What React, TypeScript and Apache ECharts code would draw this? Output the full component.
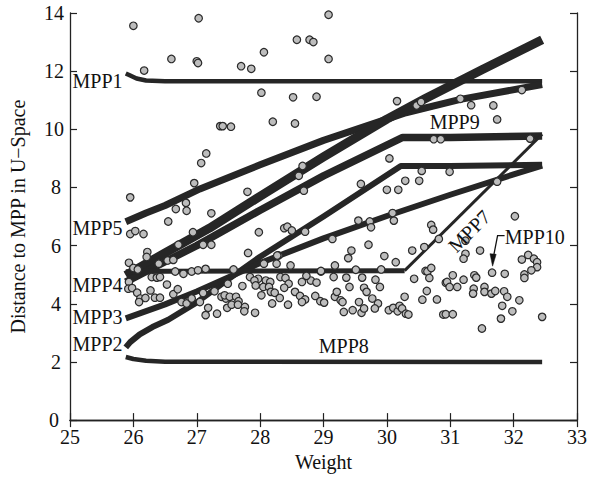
import React, { useEffect, useRef } from "react";
import * as echarts from "echarts";

// ---- Data ----
const xTickValues = [25, 26, 27, 28, 29, 30, 31, 32, 33];
const yTickValues = [0, 2, 4, 6, 8, 10, 12, 14];

const mpp1 = [[25.88, 11.92], [25.95, 11.85], [26.05, 11.75], [26.2, 11.68], [26.5, 11.65], [32.45, 11.65]];
const mpp8 = [[25.88, 2.17], [26.0, 2.1], [26.2, 2.04], [26.5, 2.01], [32.45, 2.0]];
const mpp5 = [[25.88, 6.82], [26.2, 7.12], [26.5, 7.38], [27.05, 7.95], [28.0, 8.78], [29.0, 9.62], [30.0, 10.35], [30.3, 10.57], [31.16, 11.03], [32.45, 11.54]];
const mpp6 = [[25.88, 4.98], [26.5, 5.75], [27.2, 6.6], [28.0, 7.7], [29.0, 9.05], [30.0, 10.35], [30.6, 11.05], [31.5, 12.05], [32.45, 13.08]];
const mpp9 = [[25.88, 4.75], [26.5, 5.45], [27.0, 6.0], [28.0, 7.22], [29.0, 8.4], [30.25, 9.72], [31.0, 9.72], [32.45, 9.77]];
const mpp2 = [[25.88, 2.5], [25.95, 2.68], [26.1, 2.95], [26.3, 3.2], [26.55, 3.45], [27.0, 4.05], [27.5, 4.85], [28.0, 5.62], [29.0, 7.0], [30.22, 8.74], [31.0, 8.74], [32.45, 8.78]];
const mpp3 = [[25.88, 3.5], [26.5, 3.98], [27.0, 4.42], [28.0, 5.4], [29.0, 6.25], [30.0, 7.02], [31.0, 7.75], [32.0, 8.45], [32.45, 8.75]];
const mpp7 = [[25.88, 5.1], [26.5, 5.12], [30.28, 5.14], [32.45, 9.83]];

const mpp10 = [
  [26.0, 13.56], [27.03, 13.82], [29.08, 13.94], [26.17, 12.02], [26.6, 12.42], [27.0, 12.34], [27.02, 12.28], [27.7, 12.17], [27.86, 12.08], [28.06, 12.65],
  [28.58, 13.08], [28.78, 13.08], [28.84, 13.0], [29.08, 12.42], [28.02, 11.26], [28.52, 11.1], [28.89, 11.12], [27.37, 10.11], [27.41, 10.11], [27.54, 10.09],
  [28.2, 10.26], [28.55, 10.2], [30.16, 10.97], [30.47, 10.82], [30.54, 10.94], [31.16, 11.05], [31.33, 10.83], [31.68, 10.82], [31.74, 10.34], [32.13, 11.35],
  [27.15, 9.17], [27.07, 8.84], [26.96, 8.15], [27.8, 7.85], [25.95, 7.66], [26.83, 7.47], [26.67, 7.26], [26.84, 7.2], [27.23, 7.11], [26.55, 6.83],
  [30.74, 9.66], [30.85, 9.66], [32.26, 9.68], [28.67, 8.74], [28.61, 8.4], [28.69, 7.89], [30.04, 9.0], [30.55, 8.57], [30.99, 8.54], [29.59, 8.12],
  [30.0, 7.92], [30.18, 7.92], [30.29, 8.23], [30.51, 8.23], [31.74, 8.2], [32.02, 7.01],
  [27.98, 6.46], [28.38, 6.6], [28.43, 6.65], [28.5, 6.52], [28.71, 6.48], [25.95, 6.4], [26.03, 6.5], [26.16, 6.4], [26.94, 6.46], [29.55, 6.86],
  [29.73, 6.83], [29.75, 6.63], [30.11, 6.86], [30.09, 7.12], [30.7, 6.71], [30.73, 6.55], [30.82, 6.23],
  [27.1, 6.03], [27.23, 6.03], [26.71, 6.03], [29.14, 6.23], [29.71, 6.03], [31.24, 6.17],
  [26.22, 5.78], [26.21, 5.61], [25.93, 5.41], [26.0, 5.23], [26.07, 5.18], [26.4, 5.38], [26.54, 5.49], [26.63, 5.51], [26.29, 4.92], [26.37, 4.9],
  [26.42, 4.92], [26.66, 5.11], [26.79, 5.03], [26.92, 5.11], [27.02, 5.15], [27.14, 5.2], [25.93, 4.75], [25.92, 4.52], [25.98, 4.54], [26.53, 4.66],
  [26.27, 4.46], [26.06, 4.38], [26.11, 4.18], [26.19, 4.2], [26.09, 4.06], [26.34, 4.21], [26.42, 4.21], [26.63, 4.33], [26.7, 4.5], [26.76, 4.06],
  [26.84, 4.01], [26.92, 4.18], [27.05, 4.06], [27.1, 4.37], [27.28, 4.43], [27.39, 4.24], [27.46, 4.18], [27.18, 3.86], [27.32, 3.66], [27.14, 3.61],
  [27.81, 5.75], [28.29, 5.66], [28.06, 5.38], [28.26, 5.38], [28.48, 5.32], [29.18, 5.32], [27.58, 5.18], [27.49, 4.69], [27.84, 4.92], [27.97, 4.86],
  [27.91, 4.8], [28.32, 4.92], [28.4, 4.89], [28.09, 4.8], [28.16, 4.75], [27.93, 4.63], [27.72, 4.61], [28.05, 4.58], [28.14, 4.58], [28.45, 4.69],
  [28.38, 4.55], [28.66, 4.75], [28.8, 4.8], [28.89, 4.73], [28.73, 4.96], [28.96, 5.11], [29.16, 4.92], [28.17, 4.41], [28.23, 4.38], [28.02, 4.29],
  [28.31, 4.2], [28.55, 4.41], [28.63, 4.27], [28.71, 4.15], [28.66, 4.06], [28.87, 4.27], [28.95, 4.09], [29.01, 4.04], [29.18, 4.24], [29.21, 4.41],
  [28.19, 4.01], [28.44, 3.97], [27.44, 4.29], [27.52, 4.24], [27.62, 4.24], [27.66, 4.09], [27.48, 3.86], [27.55, 3.97], [27.65, 3.97], [27.76, 3.89],
  [27.75, 3.74], [27.92, 3.69],
  [28.27, 5.66], [28.96, 5.13], [29.51, 5.17], [29.91, 5.18], [29.44, 5.83], [29.39, 5.57], [29.96, 5.64], [30.14, 5.43], [30.4, 5.83], [30.59, 5.95],
  [30.43, 4.86], [30.61, 5.13], [29.36, 4.9], [29.61, 4.9], [29.82, 4.83], [30.64, 5.11], [30.7, 5.23], [30.67, 4.89], [30.93, 4.72], [29.41, 4.58],
  [29.64, 4.55], [29.68, 4.41], [29.89, 4.58], [29.27, 4.12], [29.3, 4.06], [29.77, 4.18], [29.86, 4.01], [29.56, 4.06], [30.28, 4.24], [30.56, 4.14],
  [30.63, 4.44], [30.79, 4.15], [29.32, 3.72], [29.46, 3.78], [29.6, 3.69], [29.64, 3.84], [29.81, 3.84], [30.03, 3.78], [30.1, 3.86], [30.17, 3.74],
  [30.2, 3.93], [30.24, 3.84], [30.3, 3.66], [30.34, 3.63], [30.89, 3.63],
  [31.24, 5.72], [31.21, 5.55], [31.47, 5.83], [32.13, 5.52], [32.23, 5.68], [32.32, 5.55], [32.37, 5.43], [32.37, 5.26], [32.28, 5.15], [32.17, 5.01],
  [32.17, 4.89], [31.66, 5.07], [31.86, 5.03], [31.04, 4.98], [30.95, 4.75], [30.99, 4.58], [31.11, 4.58], [31.21, 4.83], [31.38, 4.98], [31.41, 4.9],
  [31.37, 4.52], [31.36, 4.35], [31.54, 4.58], [31.54, 4.41], [31.65, 4.35], [31.71, 4.44], [31.85, 4.43], [31.9, 4.24], [32.09, 4.12], [31.82, 3.93],
  [31.98, 3.74], [31.8, 3.49], [30.93, 3.64], [31.04, 3.64], [32.45, 3.55], [31.5, 3.15],
];

const labelNames = ["MPP1", "MPP5", "MPP4", "MPP3", "MPP2", "MPP8", "MPP9", "MPP7", "MPP10"];
// annotation anchors (data coordinates)
const labelAnchors = [
  [25.04, 11.66], [25.04, 6.61], [25.04, 4.63], [25.04, 3.53], [25.04, 2.6],
  [29.32, 2.55], [31.07, 10.24], [31.3, 6.5], [31.86, 6.28],
];
const arrowTarget = [31.66, 5.07];

const FONT = '"Liberation Serif", "Times New Roman", serif';
const INK = "#111";
const BAND = "#262626";

export default function App() {
  const ref = useRef<HTMLDivElement>(null);
  useEffect(() => {
    document.body.style.margin = "0";
    const chart = echarts.init(ref.current!, null, { renderer: "svg" });
    const axisCommon = {
      axisLine: { show: true, lineStyle: { color: "#222", width: 1.3 } },
      axisTick: { show: true, inside: true, length: 7, lineStyle: { color: "#222", width: 1.2 } },
      splitLine: { show: false },
    };
    const lineSeries = (data: number[][], width: number) => ({
      type: "line",
      data,
      symbol: "none",
      showSymbol: false,
      smooth: false,
      xAxisIndex: 0,
      yAxisIndex: 0,
      lineStyle: { color: BAND, width, cap: "butt", join: "round" },
      z: 2,
      silent: true,
    });
    const richBase = { fontFamily: FONT, fontSize: 20, lineHeight: 14, color: INK };
    chart.setOption({
      animation: false,
      backgroundColor: "#fff",
      grid: { left: 69, right: 9, top: 13, bottom: 55, containLabel: false },
      xAxis: [
        {
          type: "value", min: 25, max: 33, interval: 1, position: "bottom",
          ...axisCommon,
          axisLabel: { show: true, fontFamily: FONT, fontSize: 20, lineHeight: 14, color: INK, margin: 10,
            formatter: (v: number) => (xTickValues.includes(v) ? String(v) : "") },
          name: "Weight", nameLocation: "middle", nameGap: 30,
          nameTextStyle: { fontFamily: FONT, fontSize: 20, color: INK },
        },
        { type: "value", min: 25, max: 33, interval: 1, position: "top", ...axisCommon, axisLabel: { show: false } },
      ],
      yAxis: [
        {
          type: "value", min: 0, max: 14, interval: 2, position: "left",
          ...axisCommon,
          axisLabel: { show: true, fontFamily: FONT, fontSize: 20, lineHeight: 14, color: INK, margin: 6,
            formatter: (v: number) => {
              if (!yTickValues.includes(v)) return "";
              if (v === 0) return "{z|0}";
              if (v < 10) return "{s|" + v + "}";
              return "{d|" + v + "}";
            },
            rich: {
              z: { ...richBase, padding: [0, 5, 0, 0] },
              s: { ...richBase, padding: [0, 3, 0, 0] },
              d: { ...richBase },
            },
          },
          name: "Distance to MPP in U\u2212Space", nameLocation: "middle", nameGap: 42,
          nameTextStyle: { fontFamily: FONT, fontSize: 20, color: INK },
        },
        { type: "value", min: 0, max: 14, interval: 2, position: "right", ...axisCommon, axisLabel: { show: false } },
      ],
      series: [
        lineSeries(mpp1, 4.5),
        lineSeries(mpp8, 4.5),
        lineSeries(mpp5, 7),
        lineSeries(mpp6, 9),
        lineSeries(mpp9, 7.5),
        lineSeries(mpp2, 6),
        lineSeries(mpp3, 6),
        lineSeries(mpp7.slice(0, 3), 5),
        lineSeries(mpp7.slice(2), 3),
        {
          type: "scatter",
          data: mpp10,
          symbol: "circle",
          symbolSize: 7.5,
          xAxisIndex: 0,
          yAxisIndex: 0,
          itemStyle: { color: "#bdbdbd", borderColor: "#2a2a2a", borderWidth: 1.2, opacity: 1 },
          z: 3,
          silent: true,
        },
      ],
    });

    const toPx = (p: number[]) => chart.convertToPixel({ seriesIndex: 0 }, p) as number[];
    const textEl = (name: string, p: number[], align: string, rotation = 0) => ({
      type: "text",
      x: p[0],
      y: p[1],
      rotation,
      z: 10,
      style: {
        text: name,
        fontFamily: FONT,
        fontSize: 20,
        fill: INK,
        align,
        verticalAlign: "middle",
        textAlign: align,
        textVerticalAlign: "middle",
      },
    });
    const graphics: any[] = [];
    labelNames.forEach((name, i) => {
      const p = toPx(labelAnchors[i]);
      let align = "left";
      let rot = 0;
      if (name === "MPP8" || name === "MPP9") align = "center";
      if (name === "MPP7") { align = "center"; rot = Math.PI / 4; }
      graphics.push(textEl(name, p, align, rot));
    });
    const tipBase = toPx(arrowTarget);
    const tip = [tipBase[0] + 0.5, tipBase[1] - 6.5];
    const corner = [tip[0] + 5, tip[1] - 30.5];
    const stub = [tip[0] + 12, tip[1] - 30.5];
    graphics.push({
      type: "polyline",
      z: 10,
      shape: { points: [stub, corner, [tip[0] + 1, tip[1] - 10]] },
      style: { stroke: INK, lineWidth: 1.3, fill: null },
    });
    graphics.push({
      type: "polygon",
      z: 10,
      shape: { points: [tip, [tip[0] - 2.6, tip[1] - 12.5], [tip[0] + 3.6, tip[1] - 11.8]] },
      style: { fill: INK, stroke: INK, lineWidth: 0.5 },
    });
    chart.setOption({ graphic: graphics });

    return () => chart.dispose();
  }, []);
  return <div ref={ref} style={{ width: 590, height: 477 }} />;
}
